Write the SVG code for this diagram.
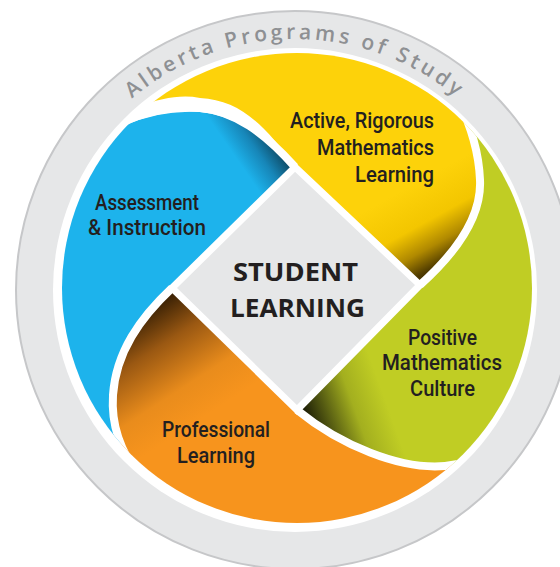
<svg xmlns="http://www.w3.org/2000/svg" width="560" height="567" viewBox="0 0 560 567">
<defs>
  <clipPath id="disc"><circle cx="297" cy="288" r="235"/></clipPath>
  <linearGradient id="gY" gradientUnits="userSpaceOnUse" x1="385" y1="200" x2="432" y2="285">
    <stop offset="0" stop-color="#fdd20a"/>
    <stop offset="0.4" stop-color="#f3c600"/>
    <stop offset="0.65" stop-color="#b08900"/>
    <stop offset="0.85" stop-color="#4f3b00"/>
    <stop offset="1" stop-color="#2a1f00"/>
  </linearGradient>
  <linearGradient id="gB" gradientUnits="userSpaceOnUse" x1="225" y1="195" x2="290" y2="150">
    <stop offset="0.38" stop-color="#1db3ec"/>
    <stop offset="0.65" stop-color="#1786b8"/>
    <stop offset="0.86" stop-color="#0f5270"/>
    <stop offset="1" stop-color="#0a2e3e"/>
  </linearGradient>
  <linearGradient id="gO" gradientUnits="userSpaceOnUse" x1="165" y1="300" x2="230" y2="400">
    <stop offset="0" stop-color="#3d2305"/>
    <stop offset="0.3" stop-color="#9a5812"/>
    <stop offset="0.7" stop-color="#e98c1c"/>
    <stop offset="1" stop-color="#f7941d"/>
  </linearGradient>
  <linearGradient id="gG" gradientUnits="userSpaceOnUse" x1="305" y1="412" x2="380" y2="385">
    <stop offset="0" stop-color="#1f2007"/>
    <stop offset="0.25" stop-color="#555b12"/>
    <stop offset="0.6" stop-color="#a3af1f"/>
    <stop offset="1" stop-color="#c0cd24"/>
  </linearGradient>
  <path id="arcText" d="M75.9,165.5 A253,253 0 0 1 514.1,165.5"/>
</defs>
<style>
  .lbl{font-family:Roboto,"Liberation Sans",sans-serif;font-weight:500;font-size:22px;fill:#231f20}
  .ctr{font-family:"Open Sans","Liberation Sans",sans-serif;font-weight:700;font-size:25px;fill:#231f20}
  .sep{fill:none;stroke:#ffffff;stroke-width:8}
  .ring-title{font-family:"Open Sans","Liberation Sans",sans-serif;font-weight:600;font-size:21px;fill:#8e9093;letter-spacing:3.5px}
</style>
<rect width="560" height="567" fill="#ffffff"/>
<g id="ring">
  <circle cx="295" cy="290" r="279" fill="#e6e7e8" stroke="#c6c7c9" stroke-width="2"/>
  <circle cx="295" cy="290" r="242" fill="#ffffff"/>
  <text class="ring-title"><textPath href="#arcText" startOffset="50%" text-anchor="middle">Alberta Programs of Study</textPath></text>
</g>
<g clip-path="url(#disc)">
  <g id="active-rigorous">
    <path fill="url(#gY)" d="M420,285 L295,167 C265,125 240,100 200,98 C180,94 160,99 140,106 L80,40 L80,0 L540,0 L540,60 L458,100 C472,128 479,155 480,180 C482,220 450,258 420,285 Z"/>
  </g>
  <g id="assessment-instruction">
    <path fill="url(#gB)" d="M295,167 L172,288 C140,318 116,352 113,395 C111,425 120,450 140,478 L40,520 L20,80 L100,140 L125,126 C145,116 170,110 200,112 C235,115 265,137 295,167 Z"/>
  </g>
  <g id="positive-culture">
    <path fill="url(#gG)" d="M297,410 L420,285 C450,258 482,220 480,180 C479,155 472,128 458,100 L540,60 L590,300 L560,500 L495,450 C480,458 465,464 445,466 C400,470 340,445 297,410 Z"/>
  </g>
  <g id="professional-learning">
    <path fill="url(#gO)" d="M172,288 L297,410 C340,445 400,470 445,466 C465,464 480,458 495,450 L560,500 L300,580 L40,520 L140,478 C120,450 111,425 113,395 C116,352 140,318 172,288 Z"/>
  </g>
  <g id="dividers">
    <path class="sep" d="M420,285 C450,258 482,220 480,180 C479,155 472,128 458,100"/>
    <path class="sep" d="M295,167 C265,133 235,111 200,108 C170,106 145,112 122,122"/>
    <path class="sep" d="M172,288 C140,318 116,352 113,395 C111,425 120,450 140,478"/>
    <path class="sep" d="M297,410 C340,445 400,470 445,466 C465,464 480,458 495,450"/>
  </g>
</g>
<g id="student-learning">
  <polygon points="295,167 420,285 297,410 172,288" fill="#e6e7e8" stroke="#ffffff" stroke-width="7"/>
  <text class="ctr" x="233" y="281" textLength="125" lengthAdjust="spacingAndGlyphs">STUDENT</text>
  <text class="ctr" x="230" y="317" textLength="135" lengthAdjust="spacingAndGlyphs">LEARNING</text>
</g>
<g id="labels">
  <g id="label-active">
    <text class="lbl" x="290" y="128" textLength="144" lengthAdjust="spacingAndGlyphs">Active, Rigorous</text>
    <text class="lbl" x="317" y="155" textLength="117" lengthAdjust="spacingAndGlyphs">Mathematics</text>
    <text class="lbl" x="355" y="182" textLength="79" lengthAdjust="spacingAndGlyphs">Learning</text>
  </g>
  <g id="label-assessment">
    <text class="lbl" x="95" y="210" textLength="104" lengthAdjust="spacingAndGlyphs">Assessment</text>
    <text class="lbl" x="88" y="235" textLength="118" lengthAdjust="spacingAndGlyphs">&amp; Instruction</text>
  </g>
  <g id="label-positive">
    <text class="lbl" x="408" y="345" textLength="69" lengthAdjust="spacingAndGlyphs">Positive</text>
    <text class="lbl" x="382" y="370" textLength="120" lengthAdjust="spacingAndGlyphs">Mathematics</text>
    <text class="lbl" x="410" y="396" textLength="65" lengthAdjust="spacingAndGlyphs">Culture</text>
  </g>
  <g id="label-professional">
    <text class="lbl" x="162" y="437" textLength="108" lengthAdjust="spacingAndGlyphs">Professional</text>
    <text class="lbl" x="177" y="463" textLength="78" lengthAdjust="spacingAndGlyphs">Learning</text>
  </g>
</g>
</svg>
